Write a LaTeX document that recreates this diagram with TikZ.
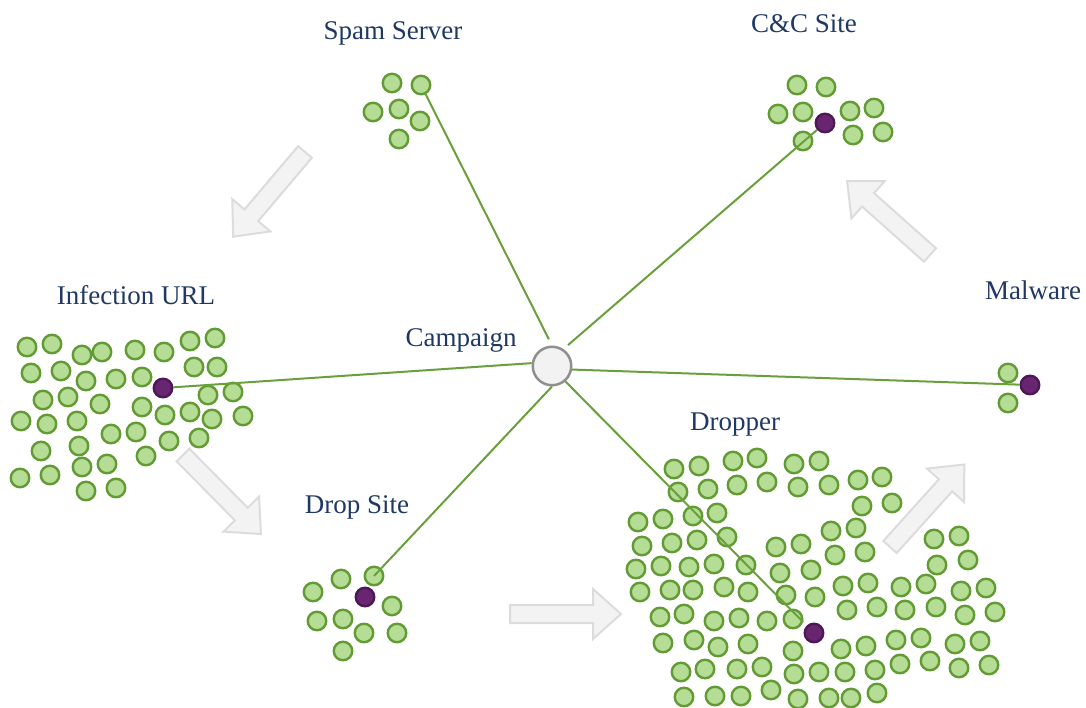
\documentclass[tikz,border=0pt]{standalone}
\usepackage{fontspec}
\setmainfont{Liberation Serif}
\definecolor{gfill}{RGB}{181,221,149}
\definecolor{gstroke}{RGB}{98,155,52}
\definecolor{pfill}{RGB}{104,38,112}
\definecolor{pstroke}{RGB}{78,24,88}
\definecolor{cfill}{RGB}{242,242,242}
\definecolor{cstroke}{RGB}{143,143,143}
\definecolor{lgreen}{RGB}{106,160,60}
\definecolor{tblue}{RGB}{31,56,100}
\definecolor{afill}{RGB}{243,243,243}
\definecolor{astroke}{RGB}{220,220,220}
\tikzset{
  bigarrow/.pic={\draw[arrowsty] (0,-9) -- (83,-9) -- (83,-25) -- (111,0) -- (83,25) -- (83,9) -- (0,9) -- cycle;}
}
\begin{document}
\begin{tikzpicture}[x=1pt,y=-1pt,
  gc/.style={circle,draw=gstroke,fill=gfill,line width=2.4pt,minimum size=18.5pt,inner sep=0pt},
  pc/.style={circle,draw=pstroke,fill=pfill,line width=2.4pt,minimum size=18.5pt,inner sep=0pt},
  campc/.style={circle,draw=cstroke,fill=cfill,line width=2.5pt,minimum size=38.5pt,inner sep=0pt},
  link/.style={draw=lgreen,line width=2pt},
  lbl/.style={text=tblue,font=\fontsize{27}{30}\selectfont,anchor=base,inner sep=0pt},
  arrowsty/.style={fill=afill,draw=astroke,line width=2pt,line join=miter},
]
\fill[white] (0,0) rectangle (1086,708);
\useasboundingbox (0,0) rectangle (1086,708);

% block arrows
\pic[rotate=-130.3] at (305,152) {bigarrow};
\pic[rotate=-45.4] at (183,455) {bigarrow};
\pic[rotate=0] at (510,614) {bigarrow};
\pic[rotate=48] at (890,547) {bigarrow};
\pic[rotate=138.3] at (930,255) {bigarrow};

% Spam Server
\foreach \x/\y [count=\i] in {392/83,421/85,373/112,399/109,420/121,399/139}
  \node[gc] (sp\i) at (\x,\y) {};
% C&C Site
\foreach \x/\y [count=\i] in {797/85,826/87,778/114,803/112,850/111,874/108,803/141,853/135,883/132}
  \node[gc] (cc\i) at (\x,\y) {};
% Infection URL
\foreach \x/\y [count=\i] in {27/347,52/344,82/355,102/352,135/350,164/352,190/341,215/338,
  31/373,61/371,86/381,116/379,142/377,194/367,217/367,
  43/400,68/397,100/404,142/407,165/415,190/412,208/395,233/392,212/419,243/416,
  21/421,47/424,77/421,111/434,136/432,169/441,199/438,
  41/451,79/446,146/456,20/478,50/475,82/467,107/464,86/491,116/488}
  \node[gc] (iu\i) at (\x,\y) {};
% Drop Site
\foreach \x/\y [count=\i] in {313/592,341/579,374/576,392/606,317/621,343/619,364/633,397/633,343/651}
  \node[gc] (ds\i) at (\x,\y) {};
% Malware
\foreach \x/\y [count=\i] in {1008/373,1008/403}
  \node[gc] (mw\i) at (\x,\y) {};
% Dropper
\foreach \x/\y [count=\i] in {674/469,699/466,733/461,757/458,794/464,819/461,
  678/492,708/489,737/485,767/482,798/487,829/485,
  638/522,663/519,693/516,717/513,
  642/546,672/543,697/540,727/537,776/547,801/544,831/531,835/555,
  636/569,661/566,689/567,714/564,746/565,780/573,811/570,
  640/592,670/590,693/590,724/587,748/592,786/595,815/597,843/586,
  660/617,684/614,714/621,739/618,767/621,793/619,847/610,
  663/643,694/640,718/647,748/644,793/651,841/649,
  681/672,705/669,737/669,762/667,794/674,819/672,845/672,
  684/697,715/696,741/696,771/690,798/699,829/698,851/698,
  858/480,882/477,862/506,892/503,856/528,865/552,
  934/539,959/536,937/565,968/560,
  868/583,901/587,926/584,961/591,986/588,
  877/607,905/610,936/607,965/615,995/612,
  866/646,896/640,921/638,955/644,980/641,
  875/670,900/664,930/661,959/668,989/665,
  877/693}
  \node[gc] (dp\i) at (\x,\y) {};

% campaign
\node[campc] (cp) at (552,366) {};

% purple nodes
\node[pc] (ccP) at (825,123) {};
\node[pc] (iuP) at (163,388) {};
\node[pc] (dsP) at (365,597) {};
\node[pc] (mwP) at (1030,385) {};
\node[pc] (dpP) at (814,633) {};

% links
\draw[link,shorten <=7pt] (cp.north) -- (sp2);
\draw[link,shorten <=6pt] (cp.56) -- (ccP);
\draw[link] (cp.172) -- (iuP);
\draw[link] (cp.-10) -- (mwP);
\draw[link] (cp.south) -- (ds3.center);
\draw[link,shorten >=5pt] (cp.-49) -- (dpP);

% labels
\node[lbl] (tsp) at (393,40) {Spam Server};
\node[lbl] (tcc) at (804,33) {C\&C Site};
\node[lbl] (tiu) at (136,305) {Infection URL};
\node[lbl] (tmw) at (1033,300) {Malware};
\node[lbl] (tcp) at (461,346) {Campaign};
\node[lbl] (tdp) at (735,430) {Dropper};
\node[lbl] (tds) at (357,513) {Drop Site};
\end{tikzpicture}
\end{document}
